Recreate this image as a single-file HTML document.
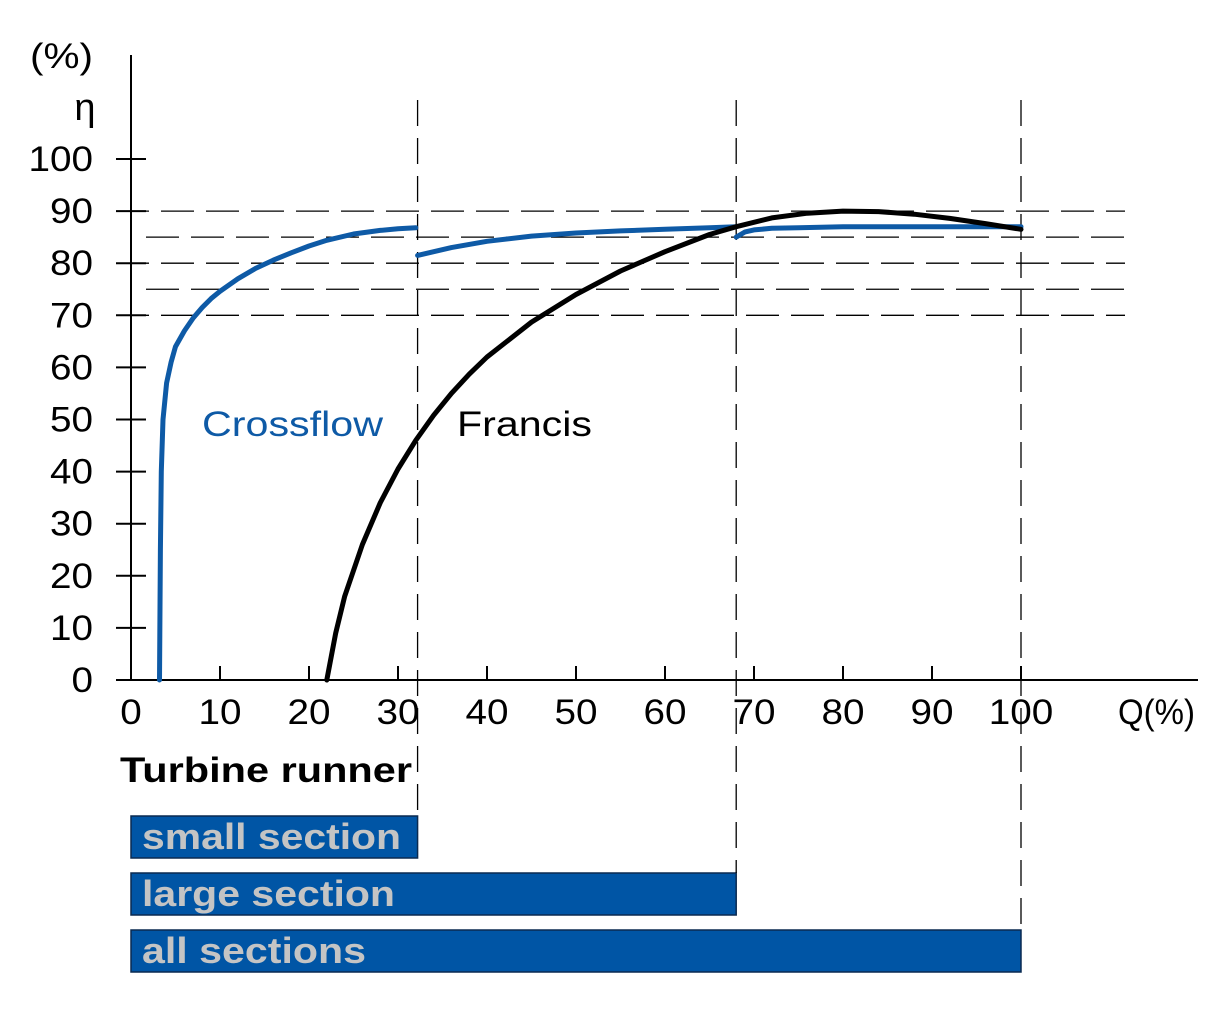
<!DOCTYPE html>
<html><head><meta charset="utf-8"><style>
body{margin:0;background:#fff}
svg text{font-family:"Liberation Sans",sans-serif}
</style></head><body>
<svg width="1230" height="1028" viewBox="0 0 1230 1028">
<g id="g"></g>
</svg>
<script>
const xTicks=[0,10,20,30,40,50,60,70,80,90,100];
const yTicks=[0,10,20,30,40,50,60,70,80,90,100];
const refLevels=[90,85,80,75,70];
const sectionLimits=[32.2,68,100];
const sectionNames=["small section","large section","all sections"];
const crossQ1=[3.2,3.3,3.4,3.6,4,4.5,5,6,7,8,9,10,12,14,16,18,20,22,25,28,30,32];
const crossE1=[0,25,40,50,57,61,64,67,69.5,71.5,73.2,74.6,77,79,80.6,82,83.3,84.4,85.6,86.3,86.6,86.8];
const crossQ2=[32.2,36,40,45,50,55,60,65,68];
const crossE2=[81.5,83,84.2,85.2,85.8,86.2,86.5,86.8,87];
const crossQ3=[68,69,70,72,75,80,90,100];
const crossE3=[85,86,86.4,86.7,86.8,87,87,87];
const francisQ=[22,23,24,26,28,30,32,34,36,38,40,45,50,55,60,65,68,72,76,80,84,88,92,96,100];
const francisE=[0,9,16,26,34,40.5,46,50.8,55,58.7,62,68.7,74,78.5,82.2,85.5,87,88.7,89.6,90,89.9,89.4,88.6,87.6,86.5];
const X=v=>131+v*8.9, Y=v=>680-v*5.21;
const ns="http://www.w3.org/2000/svg", g=document.getElementById('g');
function el(t,a,txt){const e=document.createElementNS(ns,t);for(const k in a)e.setAttribute(k,a[k]);if(txt!=null)e.textContent=txt;g.appendChild(e);return e;}
refLevels.forEach((v,i)=>{const e=el('line',{x1:(v%10===0?116:146),x2:1125,y1:Y(v),y2:Y(v),stroke:'#000','stroke-width':1.3,'stroke-dasharray':'33,12'});

});
let a=el('line',{x1:131,y1:55,x2:131,y2:680,stroke:'#000','stroke-width':2});


a=el('line',{x1:131,y1:680,x2:1198,y2:680,stroke:'#000','stroke-width':2});


const charW=21.5;
yTicks.forEach(v=>{const t=el('line',{x1:116,x2:146,y1:Y(v),y2:Y(v),stroke:'#000','stroke-width':2});


const s=String(v);
const l=el('text',{x:93,y:Y(v)+12,'font-size':35,'text-anchor':'end',textLength:s.length*charW,lengthAdjust:'spacingAndGlyphs'},s);

});
xTicks.forEach(v=>{if(v>0){const t=el('line',{x1:X(v),x2:X(v),y1:666,y2:680,stroke:'#000','stroke-width':2});

}
const s=String(v);
const l=el('text',{x:X(v),y:724,'font-size':35,'text-anchor':'middle',textLength:s.length*charW,lengthAdjust:'spacingAndGlyphs'},s);

});
let t=el('text',{x:1118,y:724,'font-size':35,textLength:77,lengthAdjust:'spacingAndGlyphs'},'Q(%)');


t=el('text',{x:30,y:68,'font-size':35,textLength:63,lengthAdjust:'spacingAndGlyphs'},'(%)');


t=el('text',{x:85,y:120,'font-size':38,'text-anchor':'middle'},'η');


const barY=[816,873,930];
const barTL=[259,253,224];
sectionLimits.forEach((v,i)=>{const r=el('rect',{x:131,y:barY[i],width:X(v)-131,height:42,fill:'#0055a5',stroke:'#0a2a50','stroke-width':1.5});


const l=el('text',{x:142,y:barY[i]+33,'font-size':36,'font-weight':'bold',fill:'#c4c4c4',textLength:barTL[i],lengthAdjust:'spacingAndGlyphs'},sectionNames[i]);

});
sectionLimits.forEach((v,i)=>{const e=el('line',{x1:X(v),x2:X(v),y1:100,y2:barY[i],stroke:'#000','stroke-width':1.3,'stroke-dasharray':'26,12'});

});
t=el('text',{x:120,y:782,'font-size':35,'font-weight':'bold',textLength:292,lengthAdjust:'spacingAndGlyphs'},'Turbine runner');


function path(q,e){return q.map((v,i)=>(i?'L':'M')+X(v).toFixed(1)+','+Y(e[i]).toFixed(1)).join('');}
[[crossQ1,crossE1],[crossQ2,crossE2],[crossQ3,crossE3]].forEach((s,i)=>{const p=el('path',{d:path(s[0],s[1]),fill:'none',stroke:'#0e5aa6','stroke-width':5,'stroke-linecap':'round','stroke-linejoin':'round'});

});
let p=el('path',{d:path(francisQ,francisE),fill:'none',stroke:'#000','stroke-width':5,'stroke-linecap':'round','stroke-linejoin':'round'});


t=el('text',{x:202,y:436,'font-size':35,fill:'#0e5aa6',textLength:181,lengthAdjust:'spacingAndGlyphs'},'Crossflow');


t=el('text',{x:457,y:436,'font-size':35,textLength:135,lengthAdjust:'spacingAndGlyphs'},'Francis');


</script>
</body></html>
